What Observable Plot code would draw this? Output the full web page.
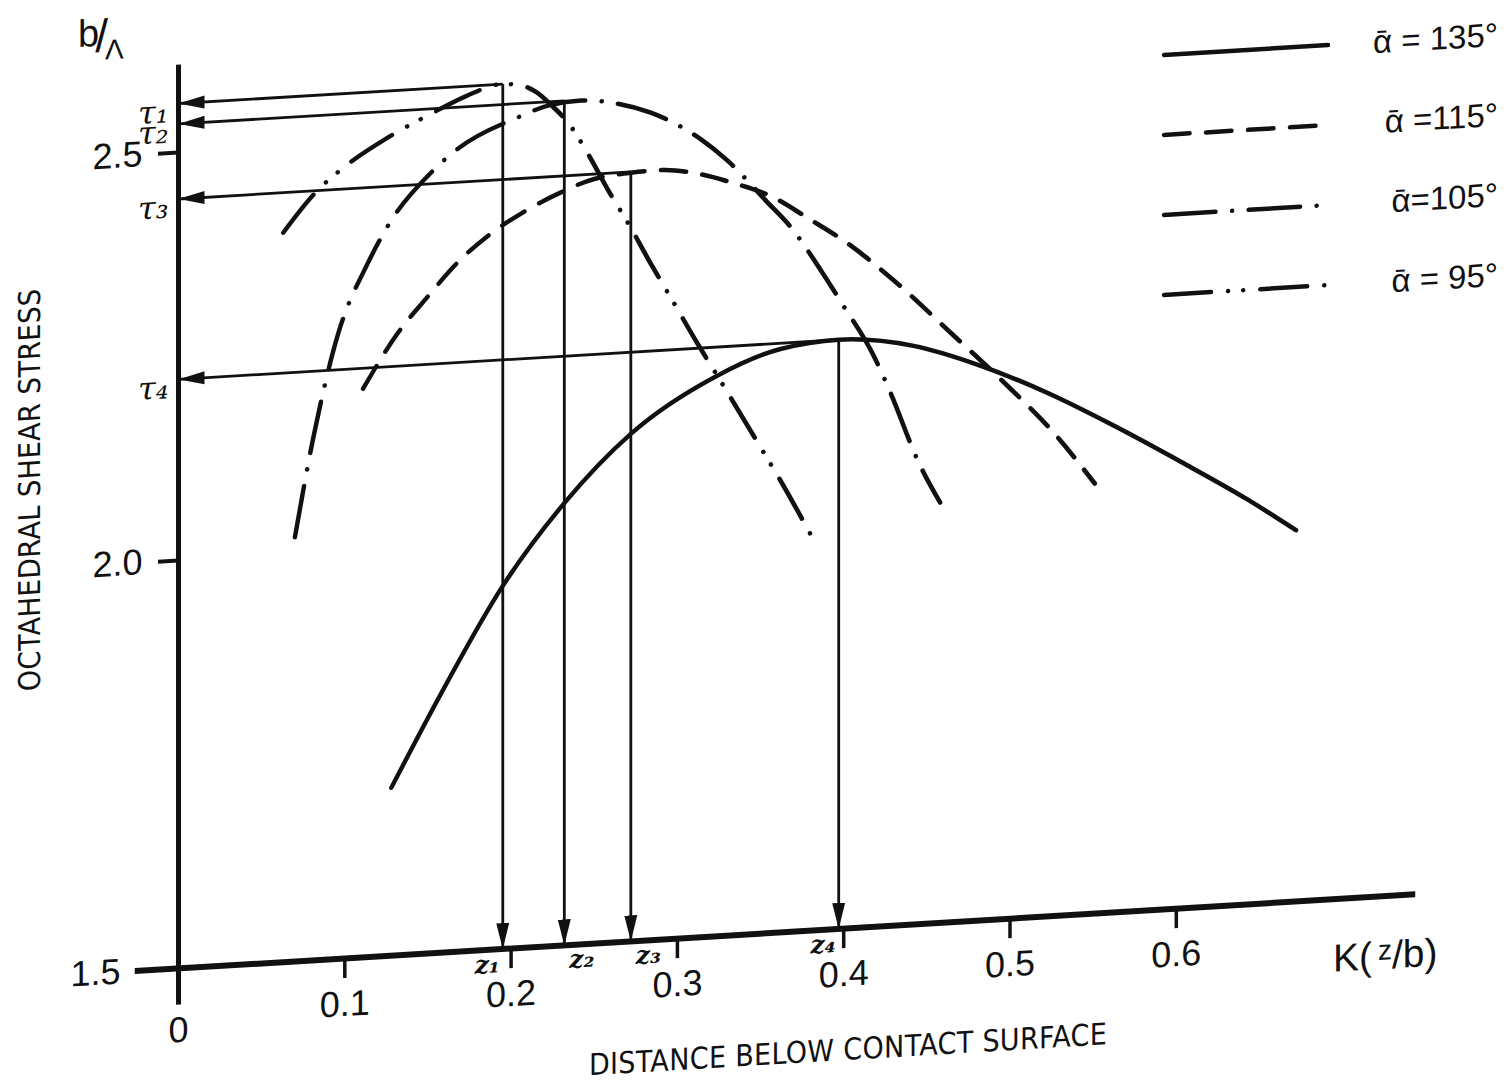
<!DOCTYPE html>
<html><head><meta charset="utf-8">
<script src="https://cdn.jsdelivr.net/npm/d3@7"></script>
<script src="https://cdn.jsdelivr.net/npm/@observablehq/plot@0.6"></script>
<style>
html,body{margin:0;padding:0;background:#fff;overflow:hidden;}
#wrap{position:relative;width:1506px;height:1160px;transform:skewY(-3.43deg);transform-origin:178px 968px;font-family:"Liberation Sans",Arial,sans-serif;color:#111;}
#chart{position:absolute;left:0;top:0;}
.t{position:absolute;white-space:nowrap;line-height:1;}
.narrow{font-family:"Liberation Sans Narrow","DejaVu Sans Condensed",sans-serif;font-stretch:condensed;font-size:30px;letter-spacing:0.35px;}
.row{position:absolute;left:1160px;width:338px;height:44px;display:flex;align-items:center;justify-content:space-between;}
.row span{font-size:33px;}
</style></head><body>
<div id="wrap">
  <div class="t narrow" id="ylab" style="left:30px;top:481px;transform:translate(-50%,-50%) rotate(-90deg);">OCTAHEDRAL SHEAR STRESS</div>
  <div class="t narrow" id="xlab" style="left:848px;top:1090px;transform:translate(-50%,-50%);">DISTANCE BELOW CONTACT SURFACE</div>
  <div class="t" id="unit" style="left:78px;top:8px;font-size:38px;"><span style="position:relative;top:-6px">b</span><span style="font-size:46px;margin-left:-4px">/</span><span style="font-size:28px;position:relative;top:8px;margin-left:-3px">Λ</span></div>
  <div class="t" id="kunit" style="left:1333px;top:1008px;font-size:39px;">K(<span style="font-size:28px;position:relative;top:-9px;margin-left:6px">z</span>/b)</div>
  <div id="chart"></div>
  <div id="legend"></div>
</div>
<script>
// ---- data ----
const series = ["135", "115", "105", "95"];
const alphaLabels = ["ᾱ = 135°", "ᾱ =115°", "ᾱ=105°", "ᾱ = 95°"];

const k135 = [0.128, 0.158, 0.195, 0.232, 0.272, 0.322, 0.362, 0.397, 0.442, 0.482, 0.523, 0.562, 0.603, 0.643, 0.672];
const s135 = [1.706, 1.818, 1.945, 2.042, 2.122, 2.185, 2.215, 2.222, 2.209, 2.180, 2.141, 2.097, 2.047, 1.996, 1.955];

const k115 = [0.111, 0.132, 0.149, 0.168, 0.186, 0.206, 0.230, 0.250, 0.273, 0.290, 0.310, 0.332, 0.358, 0.378, 0.402, 0.430, 0.464, 0.500, 0.526, 0.551];
const s115 = [2.197, 2.263, 2.303, 2.345, 2.375, 2.400, 2.423, 2.437, 2.442, 2.443, 2.437, 2.423, 2.401, 2.374, 2.340, 2.291, 2.223, 2.150, 2.093, 2.027];

const k105 = [0.070, 0.081, 0.096, 0.114, 0.126, 0.153, 0.168, 0.204, 0.224, 0.242, 0.261, 0.284, 0.314, 0.330, 0.354, 0.368, 0.387, 0.399, 0.418, 0.428, 0.445, 0.458];
const s105 = [2.020, 2.140, 2.266, 2.351, 2.395, 2.459, 2.484, 2.518, 2.531, 2.534, 2.529, 2.514, 2.478, 2.450, 2.396, 2.364, 2.306, 2.266, 2.200, 2.154, 2.066, 2.015];

const k95 = [0.063, 0.082, 0.097, 0.126, 0.152, 0.173, 0.194, 0.206, 0.215, 0.224, 0.236, 0.246, 0.259, 0.271, 0.284, 0.296, 0.312, 0.326, 0.350, 0.363, 0.381];
const s95 = [2.394, 2.440, 2.466, 2.503, 2.529, 2.548, 2.560, 2.557, 2.548, 2.531, 2.503, 2.469, 2.420, 2.378, 2.329, 2.286, 2.228, 2.180, 2.096, 2.050, 1.982];

const tauNames = ["τ₁", "τ₂", "τ₃", "τ₄"];
const zNames = ["z₁", "z₂", "z₃", "z₄"];
const zPeak = [0.195, 0.232, 0.272, 0.397];
const tauPeak = [2.560, 2.535, 2.443, 2.222];

const xTicks = [0.1, 0.2, 0.3, 0.4, 0.5, 0.6];
const yTicks = [2.0, 2.5];
const xAxisSpan = [-0.026, 0.744];
const yAxisSpan = [1.455, 2.607];

// ---- build tables ----
const kBy = {"135": k135, "115": k115, "105": k105, "95": k95};
const sBy = {"135": s135, "115": s115, "105": s105, "95": s95};
const rows = series.flatMap(a => kBy[a].map((k, i) => ({alpha: a, k, s: sBy[a][i]})));
const peaks = tauNames.map((n, i) => ({tau: n, zl: zNames[i], z: zPeak[i], v: tauPeak[i]}));

const dash = {
  "135": null,
  "115": "25.5,16.5",
  "105": "51.5,16.5,0.1,16.5",
  "95": "47,17,0.1,15,0.1,17"
};
const INK = "#111";
const SVGNS = "http://www.w3.org/2000/svg";

function headMarker(color, context) {
  const doc = (context && context.document) || document;
  const m = doc.createElementNS(SVGNS, "marker");
  m.setAttribute("viewBox", "-26 -7 26 14");
  m.setAttribute("markerWidth", "26");
  m.setAttribute("markerHeight", "14");
  m.setAttribute("markerUnits", "userSpaceOnUse");
  m.setAttribute("orient", "auto");
  m.setAttribute("refX", "0");
  m.setAttribute("refY", "0");
  const p = doc.createElementNS(SVGNS, "path");
  p.setAttribute("d", "M0,0L-26,-6.5L-26,6.5Z");
  p.setAttribute("fill", color || INK);
  p.setAttribute("stroke", "none");
  m.appendChild(p);
  return m;
}

function build(head) {
  const fmt = d => d.toFixed(1);
  const serif = "'DejaVu Serif', serif";
  return Plot.plot({
    width: 1506,
    height: 1087,
    marginLeft: 178,
    marginRight: 1506 - 178 - 0.6 * 1663,
    marginTop: 152,
    marginBottom: 119,
    x: {domain: [0, 0.6], label: null},
    y: {domain: [1.5, 2.5], label: null},
    style: {fontFamily: "'Liberation Sans', Arial, sans-serif", fontSize: "36px", color: INK, background: "transparent", overflow: "visible"},
    marks: [
      Plot.ruleX([0], {y1: yAxisSpan[0], y2: yAxisSpan[1], stroke: INK, strokeWidth: 5}),
      Plot.ruleY([1.5], {x1: xAxisSpan[0], x2: xAxisSpan[1], stroke: INK, strokeWidth: 6}),
      Plot.axisX(xTicks, {tickSize: 20, tickPadding: 12, strokeWidth: 3.5, stroke: INK, tickFormat: fmt, label: null}),
      Plot.axisX([0], {tickSize: 0, tickPadding: 48, tickFormat: d => "0", label: null}),
      Plot.axisY(yTicks, {tickSize: 20, tickPadding: 16, strokeWidth: 4, stroke: INK, tickFormat: fmt, label: null}),
      Plot.axisY([1.5], {tickSize: 0, tickPadding: 58, tickFormat: fmt, label: null}),
      ...series.map(a => Plot.line(rows.filter(r => r.alpha === a), {
        x: "k", y: "s", curve: "monotone-x", stroke: INK, strokeWidth: 4.5,
        strokeLinecap: "round", strokeDasharray: dash[a] || undefined
      })),
      Plot.link(peaks, {x1: "z", y1: "v", x2: 0, y2: "v", stroke: INK, strokeWidth: 2.8, markerEnd: head}),
      Plot.link(peaks, {x1: "z", y1: "v", x2: "z", y2: 1.5, stroke: INK, strokeWidth: 2.8, markerEnd: head}),
      Plot.text(peaks, {x: 0, y: "v", text: "tau", textAnchor: "end", dx: -10, dy: 8, fontSize: 32, fontStyle: "italic", fontFamily: serif, fill: INK}),
      Plot.text(peaks, {filter: (d, i) => i === 0 || i === 3, x: "z", y: 1.5, text: "zl", textAnchor: "end", dx: -3, dy: 15, fontSize: 25, fontWeight: "bold", fontStyle: "italic", fontFamily: serif, fill: INK}),
      Plot.text(peaks, {filter: (d, i) => i === 1 || i === 2, x: "z", y: 1.5, text: "zl", textAnchor: "start", dx: 5, dy: 15, fontSize: 25, fontWeight: "bold", fontStyle: "italic", fontFamily: serif, fill: INK})
    ]
  });
}

let chart;
try { chart = build(headMarker); } catch (e) { chart = build("arrow"); }
document.getElementById("chart").appendChild(chart);

// legend (HTML)
const legend = document.getElementById("legend");
series.forEach((a, i) => {
  const row = document.createElement("div");
  row.className = "row";
  row.style.top = (114 + i * 80 - 22) + "px";
  const d = dash[a] ? `stroke-dasharray="${dash[a]}"` : "";
  row.innerHTML = `<svg width="172" height="14"><line x1="4" y1="7" x2="168" y2="7" stroke="${INK}" stroke-width="4.5" stroke-linecap="round" ${d}/></svg><span>${alphaLabels[i]}</span>`;
  legend.appendChild(row);
});
</script>
</body></html>
